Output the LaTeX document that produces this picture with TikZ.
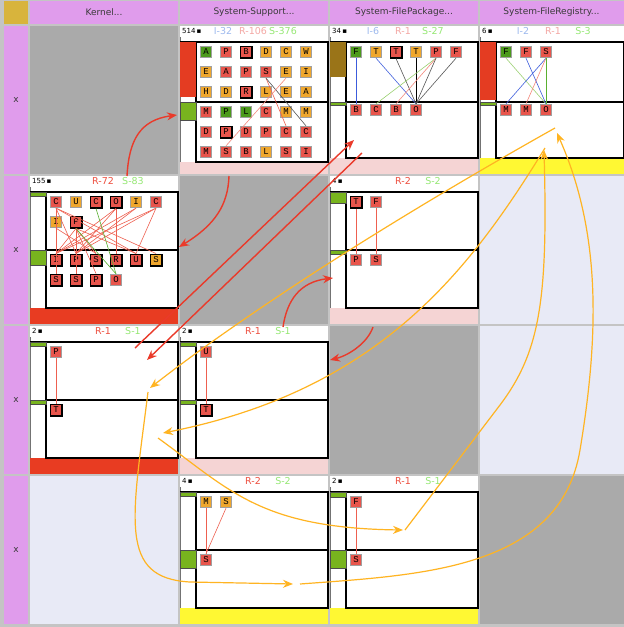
\documentclass[tikz,border=0pt]{standalone}
\usepackage{fontspec}
\setmainfont{DejaVu Sans}
\newfontfamily\itemfont{Liberation Mono}
\usetikzlibrary{arrows.meta}

\definecolor{gridgray}{HTML}{C4C4C4}
\definecolor{cellgray}{HTML}{AAAAAA}
\definecolor{lav}{HTML}{E8EAF6}
\definecolor{hdrpink}{HTML}{E09CEC}
\definecolor{hdrtext}{HTML}{3A3A3A}
\definecolor{cornergold}{HTML}{D8B43C}
\definecolor{itemred}{HTML}{E8554C}
\definecolor{itemorange}{HTML}{EFA72E}
\definecolor{itemgreen}{HTML}{4C9A1C}
\definecolor{itemrim}{HTML}{A0A0A0}
\definecolor{bandpink}{HTML}{F5D4D4}
\definecolor{bandred}{HTML}{E83C22}
\definecolor{bandyellow}{HTML}{FFF833}
\definecolor{markbrown}{HTML}{9A7418}
\definecolor{markred}{HTML}{E43C22}
\definecolor{markgreen}{HTML}{78B41E}
\definecolor{arrred}{HTML}{EA3A2A}
\definecolor{arrorng}{HTML}{FFB422}
\definecolor{cntI}{HTML}{9DB9EE}
\definecolor{cntRl}{HTML}{F4A8A4}
\definecolor{cntRd}{HTML}{EE5040}
\definecolor{cntS}{HTML}{96E874}
\definecolor{edred}{HTML}{EE6050}
\definecolor{edlred}{HTML}{F4887C}
\definecolor{edblue}{HTML}{3C5CDC}
\definecolor{edgreen}{HTML}{5AB030}
\definecolor{edlgreen}{HTML}{9AD070}
\definecolor{edgray}{HTML}{555555}

\tikzset{
  >=Stealth,
  colhead/.style   = {fill=hdrpink, text=hdrtext, font=\fontsize{9}{10}\selectfont,
                      inner sep=0pt, minimum height=23pt},
  rowhead/.style   = {fill=hdrpink, text=hdrtext, font=\fontsize{9}{10}\selectfont,
                      inner sep=0pt, minimum width=24pt, minimum height=148pt},
  item/.style      = {draw=itemrim, line width=0.8pt, minimum size=11.5pt, inner sep=0pt,
                      font=\itemfont\fontsize{9}{9}\selectfont},
  ir/.style        = {item, fill=itemred},
  irb/.style       = {ir, draw=black, line width=1.5pt},
  io/.style        = {item, fill=itemorange},
  iob/.style       = {io, draw=black, line width=1.5pt},
  ig/.style        = {item, fill=itemgreen},
  boxline/.style   = {black, line width=1.2pt},
  stripline/.style = {black!55, line width=0.8pt},
  greenbox/.style  = {fill=markgreen, draw=black!70, line width=0.6pt},
  dep/.style       = {line width=0.6pt},
  num/.style       = {anchor=west, font=\fontsize{7}{8}\selectfont, inner sep=0pt},
  cnt/.style       = {font=\fontsize{9.5}{10}\selectfont, inner sep=0pt},
  redarr/.style    = {-{Stealth[length=10pt, width=8pt]}, arrred, line width=1.4pt},
  orarr/.style     = {-{Stealth[length=10pt, width=8pt]}, arrorng, line width=1.2pt},
}

% x0, y0, width, middle line, bottom line, band colour
\newcommand{\modframe}[6]{%
  \fill[white] (#1+1,#2+1) rectangle (#1+#3-1,#2+#5);
  \fill[#6] (#1+1,#2+#5) rectangle (#1+#3-1,#2+149);
  \draw[stripline] (#1+1.5,#2+12) -- (#1+1.5,#2+#5);
  \draw[boxline] (#1+1,#2+17) -- (#1+#3-1,#2+17);
  \draw[boxline] (#1+17,#2+17) rectangle (#1+#3-1,#2+#5);
  \draw[boxline] (#1+17,#2+#4) -- (#1+#3-1,#2+#4);
}
% x0, y0, name, number, R colour, R text, S text
\newcommand{\cellhead}[7]{%
  \node[num] (#3n) at (#1+3,#2+6) {#4\,▪};
  \node[cnt, text=#5] (#3r) at (#1+74,#2+6) {#6};
  \node[cnt, text=cntS] (#3s) at (#1+104,#2+6) {#7};
}

\begin{document}
\begin{tikzpicture}[x=1pt, y=-1pt]
  \useasboundingbox (0,0) rectangle (624,627);
  \fill[gridgray] (0,0) rectangle (624,627);

  % headers
  \fill[cornergold] (4,1) rectangle (28,24);
  \node[colhead, minimum width=148pt] (hk) at (104,12.5)   {Kernel...};
  \node[colhead, minimum width=148pt] (hs) at (254,12.5)   {System-Support...};
  \node[colhead, minimum width=148pt] (hp) at (404,12.5)   {System-FilePackage...};
  \node[colhead, minimum width=144pt] (hr) at (551.5,12.5) {System-FileRegistry...};
  \foreach \y [count=\i] in {100,250,400,550}
    \node[rowhead] (x\i) at (16,\y) {x};

  % empty cells
  \foreach \x/\y in {29/25, 179/175, 329/325}
    \fill[cellgray] (\x+1,\y+1) rectangle (\x+149,\y+149);
  \fill[cellgray] (480,476) rectangle (624,624);
  \fill[lav] (480,176) rectangle (624,324);
  \fill[lav] (480,326) rectangle (624,474);
  \fill[lav] (30,476) rectangle (178,624);

  % System-Support, row 1
  \modframe{179}{25}{150}{77}{137}{bandpink}
  \fill[markred] (180,42) rectangle (196,97);
  \fill[greenbox] (180,102) rectangle (196,120);
  \cellhead{179}{25}{c514}{514}{cntRl}{R-106}{S-376}
  \node[cnt, text=cntI] (c514i) at (223,31) {I-32};
  \foreach \r/\y/\lst in {
      1/52/{A/ig,P/ir,B/irb,D/io,C/io,W/io},
      2/72/{E/io,A/ir,P/ir,S/ir,E/io,I/io},
      3/92/{H/io,D/io,R/irb,L/io,E/io,A/io},
      4/112/{M/ir,P/ig,L/ig,C/ir,M/io,M/io},
      5/132/{D/ir,P/irb,D/ir,P/ir,C/ir,C/ir},
      6/152/{M/ir,S/ir,B/ir,L/io,S/ir,I/ir}}
    {\foreach \t/\s [count=\i from 0] in \lst
       \node[\s] (ss\r\i) at (206+20*\i,\y) {\t};}
  \draw[dep, edred]  (ss23.south) -- (ss54.north);
  \draw[dep, edgray] (ss23.south) -- (ss55.north);
  \draw[dep, edlred] (ss24.south) -- (ss61.north);

  % System-FilePackage, row 1
  \modframe{329}{25}{150}{77}{133}{bandpink}
  \fill[markbrown] (330,42) rectangle (346,77);
  \fill[greenbox] (330,102) rectangle (346,105);
  \cellhead{329}{25}{c34}{34}{cntRl}{R-1}{S-27}
  \node[cnt, text=cntI] (c34i) at (373,31) {I-6};
  \foreach \t/\s [count=\i from 0] in {F/ig,T/io,T/irb,T/io,P/ir,F/ir}
    \node[\s] (fp\i) at (356+20*\i,52) {\t};
  \foreach \t [count=\i from 0] in {B,C,B,O}
    \node[ir] (fq\i) at (356+20*\i,110) {\t};
  \foreach \a/\b/\c in {fp0/fq0/edblue, fp1/fq3/edblue, fp2/fq3/edgray, fp3/fq3/black,
                        fp4/fq1/edlgreen, fp4/fq2/edlred, fp4/fq3/edgray, fp5/fq3/edgray}
    \draw[dep, \c] (\a.south) -- (\b.north);

  % System-FileRegistry, row 1
  \modframe{479}{25}{146}{77}{133}{bandyellow}
  \fill[markred] (480,42) rectangle (496,100);
  \fill[greenbox] (480,102) rectangle (496,105);
  \cellhead{479}{25}{c6}{6}{cntRl}{R-1}{S-3}
  \node[cnt, text=cntI] (c6i) at (523,31) {I-2};
  \foreach \t/\s [count=\i from 0] in {F/ig,F/ir,S/ir}
    \node[\s] (fr\i) at (506+20*\i,52) {\t};
  \foreach \t [count=\i from 0] in {M,M,O}
    \node[ir] (fs\i) at (506+20*\i,110) {\t};
  \foreach \a/\b/\c in {fr0/fs2/edlgreen, fr1/fs2/edblue, fr2/fs0/edblue,
                        fr2/fs1/edlred, fr2/fs2/edgreen}
    \draw[dep, \c] (\a.south) -- (\b.north);

  % Kernel, row 2
  \modframe{29}{175}{150}{75}{133}{bandred}
  \fill[greenbox] (30,192) rectangle (46,196);
  \fill[greenbox] (30,250) rectangle (46,265);
  \cellhead{29}{175}{c155}{155}{cntRd}{R-72}{S-83}
  \foreach \r/\y/\lst in {
      a/202/{C/ir,U/io,C/irb,O/irb,I/io,C/ir},
      b/222/{I/io,P/irb},
      c/260/{I/irb,P/irb,S/irb,R/irb,U/irb,S/iob},
      d/280/{S/irb,S/irb,P/irb,O/ir}}
    {\foreach \t/\s [count=\i from 0] in \lst
       \node[\s] (k\r\i) at (56+20*\i,\y) {\t};}
  \foreach \a/\b in {ka0/kd0, ka0/kc1, ka0/kc5, ka0/kc4, ka3/kc3, ka3/kc0, ka3/kc1,
                     ka4/kc0, ka4/kc1, ka5/kc4, ka5/kc0, ka5/kc1, kb1/kc2, kb1/kc4,
                     kb1/kc0, kb1/kd1, kb1/kd2, kb0/kc2}
    \draw[dep, edred] (\a.south) -- (\b.north);
  \draw[dep, edgreen] (ka2.south) -- (kd3.north);
  \draw[dep, edgreen] (kb1.south) -- (kd3.north);

  % System-FilePackage, row 2
  \modframe{329}{175}{150}{75}{133}{bandpink}
  \fill[greenbox] (330,192) rectangle (346,203);
  \fill[greenbox] (330,250) rectangle (346,254);
  \cellhead{329}{175}{c4a}{4}{cntRd}{R-2}{S-2}
  \node[irb] (fa0) at (356,202) {T};
  \node[ir]  (fa1) at (376,202) {F};
  \node[ir]  (fb0) at (356,260) {P};
  \node[ir]  (fb1) at (376,260) {S};
  \draw[dep, edred] (fa0.south) -- (fb0.north);
  \draw[dep, edred] (fa1.south) -- (fb1.north);

  % Kernel, row 3
  \modframe{29}{325}{150}{75}{133}{bandred}
  \fill[greenbox] (30,342) rectangle (46,346);
  \fill[greenbox] (30,400) rectangle (46,404);
  \cellhead{29}{325}{c2a}{2}{cntRd}{R-1}{S-1}
  \node[ir]  (kp) at (56,352) {P};
  \node[irb] (kt) at (56,410) {T};
  \draw[dep, edred] (kp.south) -- (kt.north);

  % System-Support, row 3
  \modframe{179}{325}{150}{75}{133}{bandpink}
  \fill[greenbox] (180,342) rectangle (196,346);
  \fill[greenbox] (180,400) rectangle (196,404);
  \cellhead{179}{325}{c2b}{2}{cntRd}{R-1}{S-1}
  \node[ir]  (su) at (206,352) {U};
  \node[irb] (st) at (206,410) {T};
  \draw[dep, edred] (su.south) -- (st.north);

  % System-Support, row 4
  \modframe{179}{475}{150}{75}{133}{bandyellow}
  \fill[greenbox] (180,492) rectangle (196,496);
  \fill[greenbox] (180,550) rectangle (196,568);
  \cellhead{179}{475}{c4b}{4}{cntRd}{R-2}{S-2}
  \node[io] (sqm) at (206,502) {M};
  \node[io] (sqs) at (226,502) {S};
  \node[ir] (sqt) at (206,560) {S};
  \draw[dep, edred] (sqm.south) -- (sqt.north);
  \draw[dep, edred] (sqs.south) -- (sqt.north);

  % System-FilePackage, row 4
  \modframe{329}{475}{150}{75}{133}{bandyellow}
  \fill[greenbox] (330,492) rectangle (346,497);
  \fill[greenbox] (330,550) rectangle (346,568);
  \cellhead{329}{475}{c2c}{2}{cntRd}{R-1}{S-1}
  \node[ir] (pf) at (356,502) {F};
  \node[ir] (ps) at (356,560) {S};
  \draw[dep, edred] (pf.south) -- (ps.north);

  % cross-cell dependencies
  \coordinate (k155o) at (127,176);  \coordinate (s514i) at (177,115);
  \coordinate (s514o) at (229,176);  \coordinate (k155i) at (179,247);
  \coordinate (fp34o) at (362,153);  \coordinate (k2i)   at (147,360);
  \coordinate (k2o)   at (135,348);  \coordinate (fp34i) at (354,140);
  \coordinate (s2o)   at (283,327);  \coordinate (fp4i)  at (333,278);
  \coordinate (fp4o)  at (373,327);  \coordinate (s2i)   at (330,360);

  \draw[redarr] (k155o) .. controls (129,140) and (140,120) .. (s514i);
  \draw[redarr] (s514o) .. controls (228,205) and (215,225) .. (k155i);
  \draw[redarr] (fp34o) -- (k2i);
  \draw[redarr] (k2o) -- (fp34i);
  \draw[redarr] (s2o) .. controls (287,300) and (300,282) .. (fp4i);
  \draw[redarr] (fp4o) .. controls (368,342) and (350,355) .. (s2i);

  \coordinate (k2p)  at (158,438);  \coordinate (fp2i) at (403,530);
  \coordinate (fp2o) at (405,530);  \coordinate (fr6i) at (544,150);
  \coordinate (fr6o) at (555,128);  \coordinate (k2q)  at (150,388);
  \coordinate (k2r)  at (148,392);  \coordinate (ss4i) at (293,584);
  \coordinate (ss4o) at (300,584);  \coordinate (fr6j) at (557,133);
  \coordinate (fr6p) at (545,148);  \coordinate (k2s)  at (163,433);

  \draw[orarr] (k2p) .. controls (230,490) and (260,528) .. (fp2i);
  \draw[orarr] (fp2o) -- (500,405) .. controls (540,352) and (548,300) .. (fr6i);
  \draw[orarr] (fr6o) .. controls (400,215) and (250,310) .. (k2q);
  \draw[orarr] (k2r) .. controls (132,520) and (118,578) .. (190,582) -- (ss4i);
  \draw[orarr] (ss4o) .. controls (420,575) and (560,570) .. (580,450)
                      .. controls (600,330) and (600,230) .. (fr6j);
  \draw[orarr] (fr6p) .. controls (470,270) and (380,390) .. (k2s);
\end{tikzpicture}
\end{document}
